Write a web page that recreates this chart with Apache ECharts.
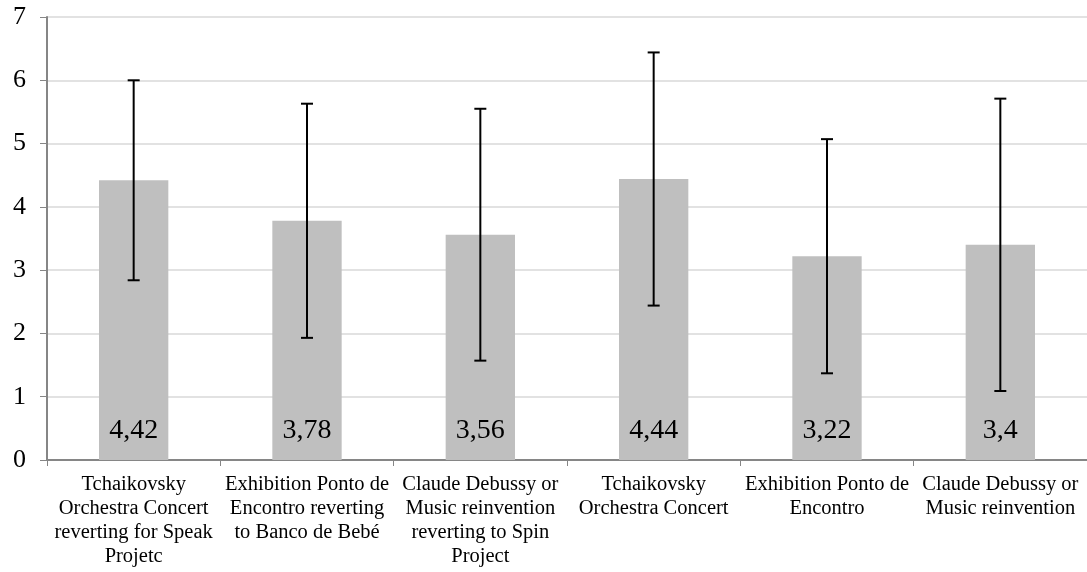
<!DOCTYPE html>
<html>
<head>
<meta charset="utf-8">
<script src="https://cdn.jsdelivr.net/npm/echarts@6/dist/echarts.min.js"></script>
<style>
html,body{margin:0;padding:0;background:#fff;}
#chart{width:1087px;height:572px;}
</style>
</head>
<body>
<div id="chart"></div>
<script>
const categories = [
  "Tchaikovsky\nOrchestra Concert\nreverting for Speak\nProjetc",
  "Exhibition Ponto de\nEncontro reverting\nto Banco de Bebé",
  "Claude Debussy or\nMusic reinvention\nreverting to Spin\nProject",
  "Tchaikovsky\nOrchestra Concert",
  "Exhibition Ponto de\nEncontro",
  "Claude Debussy or\nMusic reinvention"
];
const means = [4.42, 3.78, 3.56, 4.44, 3.22, 3.4];
const errLow = [2.84, 1.93, 1.57, 2.44, 1.37, 1.09];
const errHigh = [6.0, 5.63, 5.55, 6.44, 5.07, 5.71];
const yTicks = [0, 1, 2, 3, 4, 5, 6, 7];

const FONT = "'Liberation Serif', 'Times New Roman', serif";
const chart = echarts.init(document.getElementById('chart'));

const errData = categories.map((c, i) => [i, errLow[i], errHigh[i]]);

chart.setOption({
  animation: false,
  backgroundColor: '#ffffff',
  grid: { left: 47, right: -2, top: 17, bottom: 112, containLabel: false },
  xAxis: {
    type: 'category',
    data: categories,
    boundaryGap: true,
    axisLine: { lineStyle: { color: '#868686', width: 2 } },
    axisTick: { show: true, length: 6, alignWithLabel: false, lineStyle: { color: '#868686', width: 1 } },
    axisLabel: {
      interval: 0, margin: 13, color: '#000', fontFamily: FONT, fontSize: 20.5, lineHeight: 24, align: 'center'
    },
    splitLine: { show: false }
  },
  yAxis: {
    type: 'value',
    min: yTicks[0], max: yTicks[yTicks.length - 1], interval: 1,
    axisLine: { show: true, lineStyle: { color: '#868686', width: 2 } },
    axisTick: { show: true, length: 7, lineStyle: { color: '#868686', width: 1 } },
    axisLabel: { margin: 21, color: '#000', fontFamily: FONT, fontSize: 26 },
    splitLine: { show: true, lineStyle: { color: '#d9d9d9', width: 1.5 } }
  },
  series: [
    {
      type: 'bar',
      data: means,
      barWidth: '40%',
      itemStyle: { color: '#bfbfbf' },
      label: {
        show: true, position: 'insideBottom', distance: 15,
        color: '#000', fontFamily: FONT, fontSize: 28,
        formatter: p => String(p.value).replace('.', ',')
      },
      z: 2
    },
    {
      type: 'custom',
      data: errData,
      z: 5,
      renderItem: function (params, api) {
        const x = api.value(0);
        const lo = api.coord([x, api.value(1)]);
        const hi = api.coord([x, api.value(2)]);
        const cap = 6;
        const style = { stroke: '#000', lineWidth: 2 };
        return {
          type: 'group',
          children: [
            { type: 'line', shape: { x1: hi[0], y1: hi[1], x2: lo[0], y2: lo[1] }, style: style },
            { type: 'line', shape: { x1: hi[0] - cap, y1: hi[1], x2: hi[0] + cap, y2: hi[1] }, style: style },
            { type: 'line', shape: { x1: lo[0] - cap, y1: lo[1], x2: lo[0] + cap, y2: lo[1] }, style: style }
          ]
        };
      }
    }
  ]
});
</script>
</body>
</html>
